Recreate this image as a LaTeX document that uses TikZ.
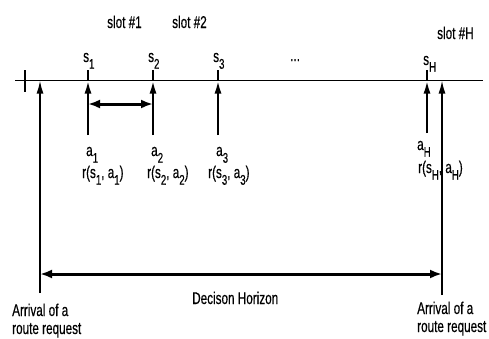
\documentclass[tikz,border=0pt]{standalone}
\usepackage{fontspec}
\setmainfont{Liberation Sans}[FakeStretch=0.69,FakeBold=0.4]
\usetikzlibrary{arrows.meta}
% lowered subscript in the label font
\newcommand{\sbx}[1]{\raisebox{-0.75ex}{\fontsize{14}{14}\selectfont #1}}

\begin{document}
\begin{tikzpicture}[x=1pt,y=-1pt,
  lbl/.style={inner sep=0pt, anchor=base west, font=\fontsize{17}{19}\selectfont},
  axis/.style={line width=1.6pt},
  stub/.style={line width=1.6pt},
  act/.style={line width=2.2pt, -{Latex[length=13pt,width=7pt]}},
  arrival/.style={line width=1.6pt, -{Latex[length=13pt,width=7pt]}},
  span/.style={line width=3pt, {Latex[length=12pt,width=9pt]}-{Latex[length=12pt,width=9pt]}}]
\useasboundingbox (0,0) rectangle (489,338);

% time axis
\coordinate (axL) at (15,80.5);
\coordinate (axR) at (483,80.5);
\draw[axis] (axL) -- (axR);
\coordinate (tkT) at (25,70);
\coordinate (tkB) at (25,92);
\draw[axis] (tkT) -- (tkB);

% decision epochs s_i on the axis
\foreach \n/\x in {1/88,2/153,3/218,H/427}{
  \coordinate (s\n) at (\x,80.5);
  \coordinate (st\n) at (\x,70);
  \draw[stub] (st\n) -- (s\n);
}
\foreach \n/\x in {1/88,2/153,3/218}{
  \coordinate (a\n) at (\x,135);
  \draw[act] (a\n) -- (s\n);
}
\coordinate (aH) at (427,133);
\draw[act] (aH) -- (sH);

% route request arrivals
\coordinate (arrL) at (40,293);
\coordinate (arrLt) at (40,80.5);
\draw[arrival] (arrL) -- (arrLt);
\coordinate (arrR) at (442,295);
\coordinate (arrRm) at (442,252);
\coordinate (arrRt) at (442,80.5);
\draw[arrival] (arrR) -- (arrRt);
\draw[line width=2.4pt] (arrRm) -- (arrR);

% slot length and decision horizon
\coordinate (sl1) at (88,104);
\coordinate (sl2) at (153,104);
\draw[span] (sl1) -- (sl2);
\coordinate (hzL) at (40,274);
\coordinate (hzR) at (442,274);
\draw[span] (hzL) -- (hzR);

% labels
\node[lbl] (slot1) at (107,28) {slot \#1};
\node[lbl] (slot2) at (172,28) {slot \#2};
\node[lbl] (slotH) at (437,39) {slot \#H};
\node[lbl] (ls1) at (83,62) {s\sbx{1}};
\node[lbl] (ls2) at (148,62) {s\sbx{2}};
\node[lbl] (ls3) at (213,62) {s\sbx{3}};
\node[lbl] (lsH) at (423,65) {s\sbx{H}};
\node[lbl] (dots) at (290,61) {...};
\node[lbl] (la1) at (86,156) {a\sbx{1}};
\node[lbl] (la2) at (151,156) {a\sbx{2}};
\node[lbl] (la3) at (216,156) {a\sbx{3}};
\node[lbl] (laH) at (417,150) {a\sbx{H}};
\node[lbl] (r1) at (82,178) {r(s\sbx{1}, a\sbx{1})};
\node[lbl] (r2) at (147,178) {r(s\sbx{2}, a\sbx{2})};
\node[lbl] (r3) at (208,178) {r(s\sbx{3}, a\sbx{3})};
\node[lbl] (rH) at (418,173) {r(s\sbx{H}, a\sbx{H})};
\node[lbl] (hz) at (192,304) {Decison Horizon};
\node[lbl] (arL1) at (12,316) {Arrival of a};
\node[lbl] (arL2) at (12,334) {route request};
\node[lbl] (arR1) at (417,314) {Arrival of a};
\node[lbl] (arR2) at (417,332) {route request};
\end{tikzpicture}
\end{document}
